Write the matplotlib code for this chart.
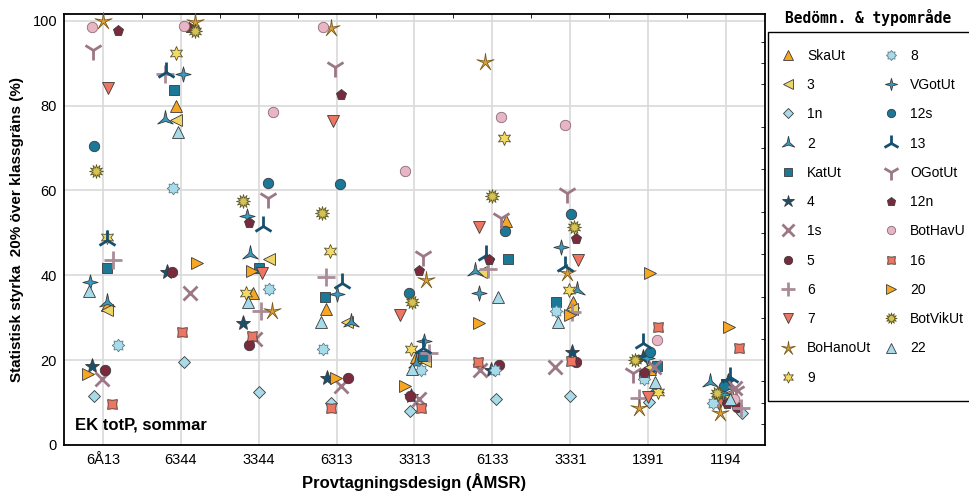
import numpy as np
import matplotlib
matplotlib.use("Agg")
import matplotlib.pyplot as plt
from matplotlib.path import Path
from matplotlib.transforms import Affine2D
from matplotlib.lines import Line2D

plt.rcParams['font.family'] = ['Liberation Sans', 'DejaVu Sans']

nan = np.nan
categories = ["6Å13", "6344", "3344", "6313", "3313", "6133", "3331", "1391", "1194"]

series_names = ["SkaUt", "3", "1n", "2", "KatUt", "4", "1s", "5", "6", "7", "BoHanoUt", "9",
                "8", "VGotUt", "12s", "13", "OGotUt", "12n", "BotHavU", "16", "20", "BotVikUt", "22"]

# values (% power) per category
v_SkaUt    = [33.0, 79.8, 35.9, 32.0, 20.8, 52.7, 33.8, 18.0, 11.0]
v_3        = [31.8, 76.5, 43.8, 28.9, 19.7, 40.7, 32.0, 18.5, 11.8]
v_1n       = [11.6, 19.6, 12.6, 9.8, 7.9, 10.8, 11.6, 10.2, 7.5]
v_2        = [33.8, 76.8, 45.0, 28.9, 19.3, 40.9, 36.6, 13.5, 14.9]
v_KatUt    = [41.7, 83.6, 41.7, 34.8, 21.0, 43.8, 33.7, 18.6, 14.3]
v_4        = [18.7, 40.7, 28.8, 15.7, 11.5, 17.7, 22.0, 20.8, 15.0]
v_1s       = [15.6, 35.8, 24.9, 13.8, 10.8, 17.7, 18.5, 18.5, 13.4]
v_5        = [17.7, 40.7, 23.6, 15.7, 11.6, 18.9, 19.6, 16.5, 8.9]
v_6        = [43.6, 87.5, 31.7, 39.7, 21.8, 41.4, 31.4, 11.0, 8.7]
v_7        = [84.1, nan, 40.5, 76.3, 30.7, 51.3, 43.5, 11.4, 9.7]
v_BoHanoUt = [100.0, 99.6, 31.7, 98.3, 38.8, 90.2, 40.5, 8.7, 7.5]
v_9        = [49.0, 92.5, 35.9, 45.8, 22.6, 72.3, 36.6, 12.6, 12.0]
v_8        = [23.6, 60.5, 36.7, 22.6, 17.7, 17.7, 31.6, 15.5, 9.8]
v_VGotUt   = [38.5, 87.5, 53.9, 35.6, 24.4, 35.8, 46.6, 20.5, 12.0]
v_12s      = [70.5, nan, 61.7, 61.6, 35.8, 50.5, 54.5, 22.0, 13.8]
v_13       = [48.3, 88.0, 51.7, 38.1, 22.9, 44.8, 42.1, 24.0, 16.1]
v_OGotUt   = [93.2, nan, 58.2, 89.2, 44.6, 53.5, 59.4, 16.9, 12.7]
v_12n      = [97.5, 98.3, 52.4, 82.5, 40.9, 43.6, 48.6, 17.0, 9.7]
v_BotHavU  = [98.5, 98.7, 78.4, 98.5, 64.5, 77.4, 75.5, 24.8, 10.8]
v_16       = [9.7, 26.7, 25.7, 8.7, 8.7, 19.6, 19.9, 27.7, 22.8]
v_20       = [16.7, 42.9, 40.9, 15.7, 13.8, 28.7, 30.7, 40.6, 27.7]
v_BotVikUt = [64.5, 97.5, 57.6, 54.6, 33.6, 58.6, 51.5, 20.0, 12.2]
v_22       = [36.2, 73.7, 33.8, 28.9, 17.9, 35.0, 28.9, 14.9, 10.8]

values = [v_SkaUt, v_3, v_1n, v_2, v_KatUt, v_4, v_1s, v_5, v_6, v_7, v_BoHanoUt, v_9,
          v_8, v_VGotUt, v_12s, v_13, v_OGotUt, v_12n, v_BotHavU, v_16, v_20, v_BotVikUt, v_22]

# horizontal jitter (pixels, category spacing = 78 px)
jitter_px = [
    [4, -5, -6, -11, 2, 14, 3, 2, 0],
    [4, -5, 10, 10, 11, -11, 2, 2, 1],
    [-9, 3, 0, -6, -5, 4, 0, 1, 16],
    [4, -16, -9, 14, 2, -17, 7, 8, -16],
    [4, -7, 0, -12, 9, 16, -14, 9, 0],
    [-11, -14, -16, -10, -4, -1, 2, -5, 2],
    [-1, 9, -4, 4, 5, -12, -15, 6, 9],
    [2, -9, -10, 11, -5, 7, 6, -4, 11],
    [10, -16, 2, -11, 15, -4, 2, -9, 15],
    [5, 0, 3, -4, -15, -13, 8, 0, -7],
    [0, 14, 13, -6, 12, -7, -3, -9, -6],
    [4, -5, -13, -7, -4, 12, -1, 10, -8],
    [15, -8, 10, -14, 7, 3, -14, -4, -13],
    [-13, 2, -12, 0, 10, -13, -9, -1, -3],
    [-9, 0, 9, 3, -6, 13, 1, 2, -2],
    [4, -15, 4, 5, 9, -6, -5, -5, 4],
    [-10, 0, 9, -2, 9, 9, -3, -15, 10],
    [15, 8, -10, 4, 5, -3, 6, -4, 1],
    [-11, 3, 14, -14, -10, 9, -5, 9, 8],
    [9, 1, -7, -6, 7, -14, 1, 10, 13],
    [-15, 16, -7, -1, -10, -13, 0, 2, 3],
    [-7, 14, -16, -15, -3, 0, 4, -13, -9],
    [-14, -3, -11, -16, -3, 6, -12, 7, 4],
]


def star(n, inner, rot=0):
    p = Path.unit_regular_star(n, inner)
    if rot:
        p = p.transformed(Affine2D().rotate_deg(rot))
    return p


ORANGE = "#F6A623"
YELLOW = "#EFD466"
LBLUE = "#A8DBEA"
BLUE = "#3A9BC0"
TEAL = "#1B7896"
NAVY = "#17506F"
MAUVE = "#9C7886"
MAUVE2 = "#A98C97"
MAROON = "#7B2A3E"
SALMON = "#EE7561"
GOLD = "#DDA23A"
YEL9 = "#F4DA60"
PINK = "#E7B5C3"
OLIVE = "#D8C255"

EDGE = "#3a3a3a"
# name: (marker, color, size, line_marker, edgecolor)
styles = {
    "SkaUt": ('^', ORANGE, 9, False, EDGE),
    "3": ('<', YELLOW, 9, False, EDGE),
    "1n": ('D', LBLUE, 6.5, False, EDGE),
    "2": (star(3, 0.22), BLUE, 13, False, EDGE),
    "KatUt": ('s', TEAL, 6.5, False, EDGE),
    "4": ('*', NAVY, 11, False, EDGE),
    "1s": ('x', MAUVE, 10, True, None),
    "5": ('o', MAROON, 7.5, False, EDGE),
    "6": ('+', MAUVE2, 13, True, None),
    "7": ('v', SALMON, 9, False, EDGE),
    "BoHanoUt": (star(5, 0.2), GOLD, 13, False, "#7a5a1a"),
    "9": (star(6, 0.5), YEL9, 10, False, "#5a5030"),
    "8": (star(8, 0.7), LBLUE, 9, False, "#5a7a88"),
    "VGotUt": (star(4, 0.3), BLUE, 11, False, EDGE),
    "12s": ('o', TEAL, 7.5, False, EDGE),
    "13": ('2', NAVY, 15, True, None),
    "OGotUt": ('1', MAUVE, 15, True, None),
    "12n": ('p', MAROON, 8, False, EDGE),
    "BotHavU": ('o', PINK, 7.5, False, "#8a6a74"),
    "16": (star(4, 0.62, 45), SALMON, 7, False, EDGE),
    "20": ('>', ORANGE, 9, False, EDGE),
    "BotVikUt": (star(12, 0.5), OLIVE, 10, False, "#5e5a24"),
    "22": ('^', LBLUE, 9, False, EDGE),
}

fig = plt.figure(figsize=(9.7, 4.91), dpi=100)
ax = fig.add_axes([64 / 970, 46 / 491, 701 / 970, 431 / 491])

xpos = np.arange(len(categories))
handles = []
for i, name in enumerate(series_names):
    mk, col, ms, is_line, ec = styles[name]
    x = xpos + np.array(jitter_px[i]) / 78.0
    y = np.array(values[i], dtype=float)
    if is_line:
        kw = dict(marker=mk, markersize=ms, color=col, markeredgecolor=col, markeredgewidth=2.0)
    else:
        kw = dict(marker=mk, markersize=ms, markerfacecolor=col, markeredgecolor=ec, markeredgewidth=0.6)
    ax.plot(x, y, linestyle='none', zorder=3 + i * 0.01, clip_on=False, **kw)
    handles.append(Line2D([], [], linestyle='none', **kw))

ax.set_xlim(-0.5, 8.5)
ax.set_ylim(0, 101.6)
ax.set_xticks(xpos)
ax.set_xticklabels(categories, fontsize=10.5)
ax.set_yticks(np.arange(0, 101, 20))
ax.tick_params(axis='y', labelsize=10.5, direction='in', length=0, pad=5)
ax.tick_params(axis='x', direction='in', length=0, pad=6)
ax.set_xticks(np.arange(0.5, 8, 1), minor=True)
ax.set_yticks(np.arange(5, 101, 5), minor=True)
ax.tick_params(which='minor', axis='x', bottom=False, top=True, direction='in', length=3)
ax.tick_params(which='minor', axis='y', left=False, right=True, direction='in', length=3)
ax.grid(True, which='major', color='#d9d9d9', linewidth=1.2, zorder=0)
ax.set_axisbelow(True)
for s in ax.spines.values():
    s.set_linewidth(1.3)
    s.set_color('black')

ax.set_ylabel("Statistisk styrka  20% över klassgräns (%)", fontsize=11, fontweight='bold', labelpad=6)
ax.set_xlabel("Provtagningsdesign (ÅMSR)", fontsize=12, fontweight='bold', labelpad=4)
ax.text(0.016, 0.035, "EK totP, sommar", transform=ax.transAxes, fontsize=12, fontweight='bold',
        ha='left', va='baseline')

leg = fig.legend(handles, series_names, ncol=2, loc='upper left',
                 bbox_to_anchor=(768 / 970, 1 - 32 / 491), fontsize=10,
                 frameon=True, fancybox=False, edgecolor='black', framealpha=1,
                 borderpad=1.2, handlelength=0.5, handletextpad=1.1, columnspacing=1.2,
                 labelspacing=1.1, markerscale=0.8, borderaxespad=0)
leg.get_frame().set_linewidth(1.0)

fig.text(868 / 970, 1 - 18 / 491, "Bedömn. & typområde", family='DejaVu Sans Mono',
         fontweight='bold', fontsize=10.5, ha='center', va='center')

fig.savefig("out.png", dpi=100)
